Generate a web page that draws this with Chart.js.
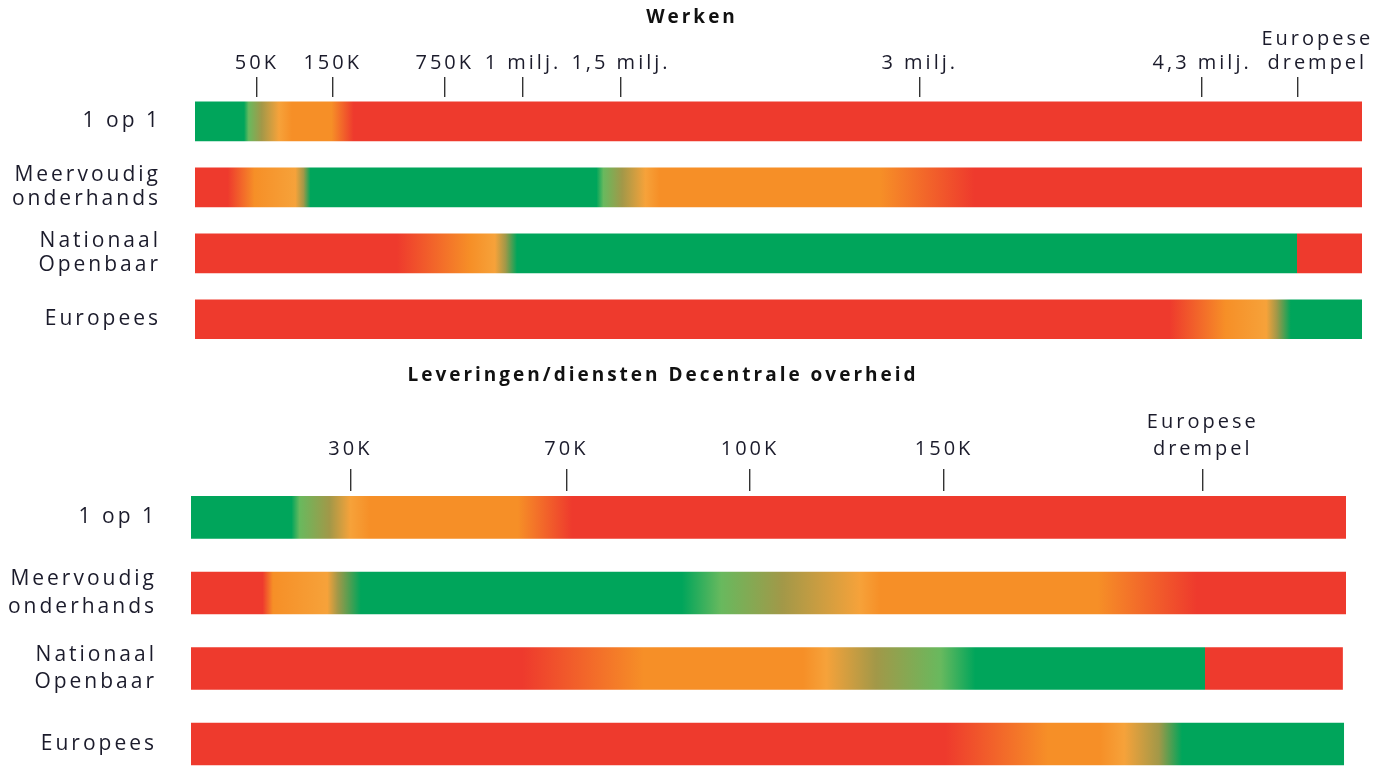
<!DOCTYPE html>
<html>
<head>
<meta charset="utf-8">
<script src="https://cdn.jsdelivr.net/npm/chart.js@4"></script>
<style>
  html, body { margin: 0; padding: 0; background: #fff; overflow: hidden; width: 1398px; height: 766px; position: relative; }
  .panel { position: absolute; left: 0; width: 1398px; }
  #top { top: 0; height: 358px; }
  #bottom { top: 355px; height: 435px; }
</style>
</head>
<body>
<div class="panel" id="top"><canvas id="werken"></canvas></div>
<div class="panel" id="bottom"><canvas id="leveringen"></canvas></div>
<script>
// rijen (zelfde voor beide panelen)
var rowLabels = [['1 op 1'], ['Meervoudig', 'onderhands'], ['Nationaal', 'Openbaar'], ['Europees']];

// Werken: drempels op de as (positie in % van de balk)
var werkenTickPos = [5.3, 11.8, 21.4, 28.1, 36.5, 62.1, 86.3, 94.5];
var werkenTickLabels = ['50K', '150K', '750K', '1 milj.', '1,5 milj.', '3 milj.', '4,3 milj.', ['Europese', 'drempel']];
var werkenBarEnd = [100, 100, 100, 100];
// kleurverloop per rij: [positie %, kleur]
var werkenStops = [
  [[0, 'g'], [4.2, 'g'], [4.6, 'lg'], [5.7, 'ol'], [7.2, 'lo'], [8.3, 'o'], [11.7, 'o'], [13.6, 'r'], [100, 'r']],
  [[0, 'r'], [2.8, 'r'], [5.1, 'o'], [8.6, 'lo'], [9.3, 'ol'], [9.9, 'g'], [34.4, 'g'], [35.0, 'lg'], [36.6, 'ol'], [38.6, 'lo'], [39.8, 'o'], [58.7, 'o'], [66.8, 'r'], [100, 'r']],
  [[0, 'r'], [17.3, 'r'], [23.6, 'o'], [25.7, 'lo'], [26.6, 'ol'], [27.6, 'g'], [94.4, 'g'], [94.4, 'r'], [100, 'r']],
  [[0, 'r'], [83.5, 'r'], [88.3, 'o'], [91.8, 'lo'], [92.7, 'ol'], [93.9, 'g'], [100, 'g']]
];

// Leveringen/diensten Decentrale overheid
var levTickPos = [13.8, 32.5, 48.4, 65.2, 87.6];
var levTickLabels = ['30K', '70K', '100K', '150K', ['Europese', 'drempel']];
var levBarEnd = [100, 100, 99.7, 99.8];
var levStops = [
  [[0, 'g'], [8.7, 'g'], [9.4, 'lg'], [12.0, 'ol'], [13.8, 'lo'], [15.5, 'o'], [28.3, 'o'], [33.0, 'r'], [100, 'r']],
  [[0, 'r'], [6.2, 'r'], [7.1, 'o'], [11.8, 'lo'], [12.7, 'ol'], [14.7, 'g'], [42.5, 'g'], [45.9, 'lg'], [51.2, 'ol'], [57.9, 'lo'], [59.7, 'o'], [78.5, 'o'], [87.1, 'r'], [100, 'r']],
  [[0, 'r'], [28.7, 'r'], [39.2, 'o'], [53.0, 'o'], [55.0, 'lo'], [59.3, 'ol'], [64.9, 'lg'], [67.9, 'g'], [87.8, 'g'], [87.8, 'r'], [100, 'r']],
  [[0, 'r'], [65.3, 'r'], [74.2, 'o'], [78.7, 'o'], [80.8, 'lo'], [83.8, 'ol'], [85.8, 'g'], [100, 'g']]
];

var kleur = { g: '#00a55b', lg: '#68b95e', ol: '#a29848', lo: '#f6a23a', o: '#f68f27', r: '#ee3a2d' };
var textColor = '#1b1b2b';
var fontFamily = '"Open Sans", sans-serif';

// wat extra letterafstand, de lettertekens in het origineel staan breed
var spacing = {
  id: 'spacing',
  beforeDraw: function(chart, args, opts) {
    chart.ctx.letterSpacing = opts.px + 'px';
  }
};

// titel iets verschuiven ten opzichte van het midden
var titleShift = {
  id: 'titleShift',
  afterLayout: function(chart, args, opts) {
    if (!chart.titleBlock) return;
    chart.titleBlock.left += opts.dx;
    chart.titleBlock.right += opts.dx;
  }
};

function gradientFill(stops) {
  return function(c) {
    var chart = c.chart;
    var x = chart.scales.x;
    if (!x || !chart.chartArea || c.dataIndex === undefined) return kleur.r;
    var x0 = x.getPixelForValue(0), x1 = x.getPixelForValue(100);
    if (!isFinite(x0) || !isFinite(x1) || x1 <= x0) return kleur.r;
    var g = chart.ctx.createLinearGradient(x0, 0, x1, 0);
    stops[c.dataIndex].forEach(function(s) { g.addColorStop(s[0] / 100, kleur[s[1]]); });
    return g;
  };
}

function makeChart(id, o) {
  var last = o.tickLabels.length - 1;
  return new Chart(id, {
    type: 'bar',
    data: {
      datasets: [{
        data: o.barEnd.map(function(v, i) { return { x: v, y: i }; }),
        backgroundColor: gradientFill(o.stops),
        borderWidth: 0,
        barThickness: o.barThickness
      }]
    },
    plugins: [spacing, titleShift],
    options: {
      indexAxis: 'y',
      responsive: true,
      maintainAspectRatio: false,
      animation: false,
      layout: { padding: o.padding },
      plugins: {
        legend: { display: false },
        tooltip: { enabled: false },
        spacing: { px: 3 },
        titleShift: { dx: o.titleShift },
        title: {
          display: true,
          text: o.title,
          color: '#111',
          font: { family: fontFamily, size: 19, weight: 'bold', lineHeight: 1.2 },
          padding: { top: o.titleTop, bottom: 0 }
        }
      },
      scales: {
        x: {
          type: 'linear',
          position: 'top',
          min: 0,
          max: 100,
          afterBuildTicks: function(s) { s.ticks = o.tickPos.map(function(v) { return { value: v }; }); },
          afterFit: function(s) { s.height = o.xHeight; },
          grid: { drawOnChartArea: false, drawTicks: true, tickLength: o.tickLength, color: '#333', lineWidth: 1.4 },
          border: { display: false },
          ticks: {
            callback: function(v, i) {
              var lab = o.tickLabels[i];
              // laatste label staat in het origineel iets rechts van het streepje
              if (i === last && o.lastIndent) {
                return lab.map(function(s) { return o.lastIndent + s; });
              }
              return lab;
            },
            autoSkip: false,
            maxRotation: 0,
            padding: o.tickPadding,
            color: textColor,
            font: { family: fontFamily, size: 20, lineHeight: o.lineHeight }
          }
        },
        y: {
          type: 'linear',
          reverse: true,
          offset: false,
          min: o.yMin,
          max: o.yMax,
          afterBuildTicks: function(s) { s.ticks = rowLabels.map(function(_, i) { return { value: i }; }); },
          afterFit: function(s) { s.width = o.yWidth; },
          // onzichtbare streepjes geven de ruimte tussen label en balk
          grid: { display: true, drawOnChartArea: false, drawTicks: true, tickLength: 34, color: 'rgba(0,0,0,0)' },
          border: { display: false },
          ticks: {
            callback: function(v) { return rowLabels[v]; },
            autoSkip: false,
            padding: 0,
            color: textColor,
            font: { family: fontFamily, size: 21, lineHeight: o.rowLineHeight }
          }
        }
      }
    }
  });
}

makeChart('werken', {
  title: 'Werken',
  titleTop: 6,
  titleShift: 11,
  barEnd: werkenBarEnd,
  stops: werkenStops,
  tickPos: werkenTickPos,
  tickLabels: werkenTickLabels,
  lastIndent: '\u2002\u2002\u2002',
  barThickness: 39,
  padding: { left: 0, right: 36, top: 0, bottom: 13 },
  xHeight: 68.2,
  tickLength: 20,
  tickPadding: 2,
  lineHeight: 1.2,
  rowLineHeight: 1.15,
  yWidth: 195,
  yMin: -0.37,
  yMax: 3.39
});

makeChart('leveringen', {
  title: 'Leveringen/diensten Decentrale overheid',
  titleTop: 9.6,
  titleShift: -10,
  barEnd: levBarEnd,
  stops: levStops,
  tickPos: levTickPos,
  tickLabels: levTickLabels,
  barThickness: 42,
  padding: { left: 0, right: 52, top: 0, bottom: 15 },
  xHeight: 103.6,
  tickLength: 22,
  tickPadding: 6.5,
  lineHeight: 1.35,
  rowLineHeight: 1.3,
  yWidth: 191,
  yMin: -0.35,
  yMax: 3.41
});
</script>
</body>
</html>
